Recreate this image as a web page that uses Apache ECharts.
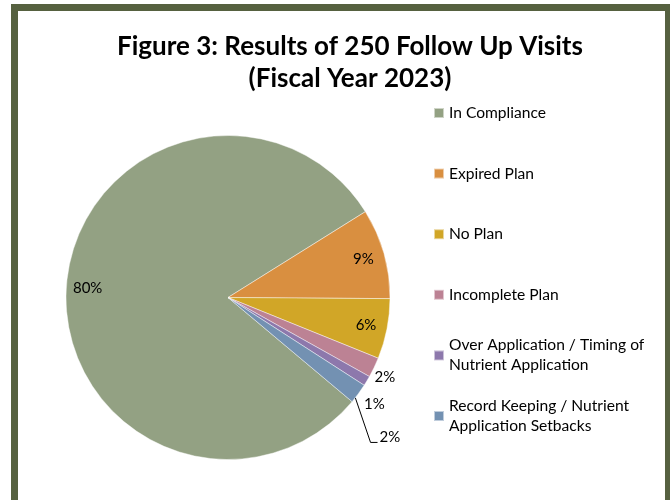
<!DOCTYPE html>
<html>
<head>
<meta charset="utf-8">
<script src="https://cdn.jsdelivr.net/npm/echarts@6/dist/echarts.min.js"></script>
<style>
  html, body { margin: 0; padding: 0; background: #fff; }
  #chart { width: 670px; height: 500px; }
</style>
</head>
<body>
<div id="chart"></div>
<script>
// Follow-up visit outcomes, FY2023 (percent of 250 visits)
const categories = [
  'In Compliance',
  'Expired Plan',
  'No Plan',
  'Incomplete Plan',
  'Over Application / Timing of Nutrient Application',
  'Record Keeping / Nutrient Application Setbacks'
];
const legendLabels = [
  'In Compliance',
  'Expired Plan',
  'No Plan',
  'Incomplete Plan',
  'Over Application / Timing of\nNutrient Application',
  'Record Keeping / Nutrient\nApplication Setbacks'
];
const shares = [80, 9, 6, 2, 1, 2];
const sliceColors = ['#93A183', '#D98F40', '#D1A627', '#BC8294', '#8D78AC', '#7391B2'];
const titleText = 'Figure 3: Results of 250 Follow Up Visits\n(Fiscal Year 2023)';

const FONT = 'Lato, "Liberation Sans", sans-serif';
const CENTER = [228, 297.5];
const R = 162;
const START = -40;

// which slices carry their percentage inside the pie
const insideLabel = [true, true, true, false, false, false];
// which outside labels get a leader line
const leaderLine = [false, false, false, false, false, true];
// small nudges for the crowded outside labels
const labelNudge = [null, null, null, [-10, 7], [-14, 17], [-10, 26]];

const chart = echarts.init(document.getElementById('chart'), null, { renderer: 'canvas' });

const pieData = categories.map((name, i) => ({
  name,
  value: shares[i],
  itemStyle: { color: sliceColors[i] }
}));

const labelData = categories.map((name, i) => ({
  name,
  value: shares[i],
  itemStyle: { color: 'rgba(0,0,0,0)', borderWidth: 0 },
  label: insideLabel[i]
    ? { position: 'inside' }
    : { position: 'outside', distanceToLabelLine: 3 },
  labelLine: insideLabel[i]
    ? { show: false }
    : (leaderLine[i]
        ? { show: true, length: 30, length2: 4, lineStyle: { color: '#000', width: 1 } }
        : { show: false, length: 6, length2: 0 })
}));

const legendData = categories.map((name, i) => ({
  name,
  textStyle: {
    padding: legendLabels[i].indexOf('\n') >= 0 ? [20, 0, 0, 0] : [20, 0, 20, 0],
    backgroundColor: 'rgba(0,0,0,0)'
  }
}));

// leader line: from the slice's outer edge down to the label's left side
function leaderPoints(dataIndex, lx, ly) {
  const lay = chart.getModel().getSeriesByIndex(1).getData().getItemLayout(dataIndex);
  const a = lay.startAngle + (lay.endAngle - lay.startAngle) * 0.75;
  const edge = [lay.cx + lay.r * Math.cos(a), lay.cy + lay.r * Math.sin(a)];
  return [edge, [lx - 9, ly], [lx - 2, ly]];
}

chart.setOption({
  animation: false,
  backgroundColor: '#fff',
  title: {
    text: titleText,
    left: 345,
    top: 26,
    textAlign: 'center',
    textStyle: {
      fontFamily: FONT,
      fontWeight: 'bold',
      fontSize: 26,
      lineHeight: 32,
      color: '#000'
    }
  },
  legend: {
    orient: 'vertical',
    left: 433,
    top: 83,
    padding: 0,
    itemGap: 0.6,
    itemWidth: 10,
    itemHeight: 10,
    icon: 'rect',
    selectedMode: false,
    data: legendData,
    formatter: name => legendLabels[categories.indexOf(name)],
    textStyle: {
      fontFamily: FONT,
      fontSize: 15.6,
      lineHeight: 20,
      color: '#000'
    }
  },
  graphic: [{
    type: 'rect',
    silent: true,
    z: 100,
    shape: { x: 14.5, y: 7.5, width: 654, height: 520 },
    style: { fill: 'none', stroke: '#566140', lineWidth: 7 }
  }],
  series: [
    {
      type: 'pie',
      center: CENTER,
      radius: R,
      startAngle: START,
      clockwise: true,
      silent: true,
      data: pieData,
      itemStyle: { borderColor: 'rgba(255,255,255,0.55)', borderWidth: 0.8 },
      label: { show: false },
      labelLine: { show: false }
    },
    {
      type: 'pie',
      center: CENTER,
      radius: [R * 0.7, R],
      startAngle: START,
      clockwise: true,
      silent: true,
      data: labelData,
      label: {
        show: true,
        formatter: p => p.value + '%',
        fontFamily: FONT,
        fontSize: 15,
        color: '#000'
      },
      labelLayout: p => {
        const n = labelNudge[p.dataIndex];
        if (!n) return {};
        const r = p.labelRect;
        if (leaderLine[p.dataIndex]) {
          const lx = r.x + n[0];
          const ly = r.y + r.height / 2 + n[1];
          return {
            x: lx, y: ly, align: 'left', verticalAlign: 'middle',
            labelLinePoints: leaderPoints(p.dataIndex, lx, ly + 5)
          };
        }
        return { dx: n[0], dy: n[1] };
      }
    }
  ]
});
</script>
</body>
</html>
